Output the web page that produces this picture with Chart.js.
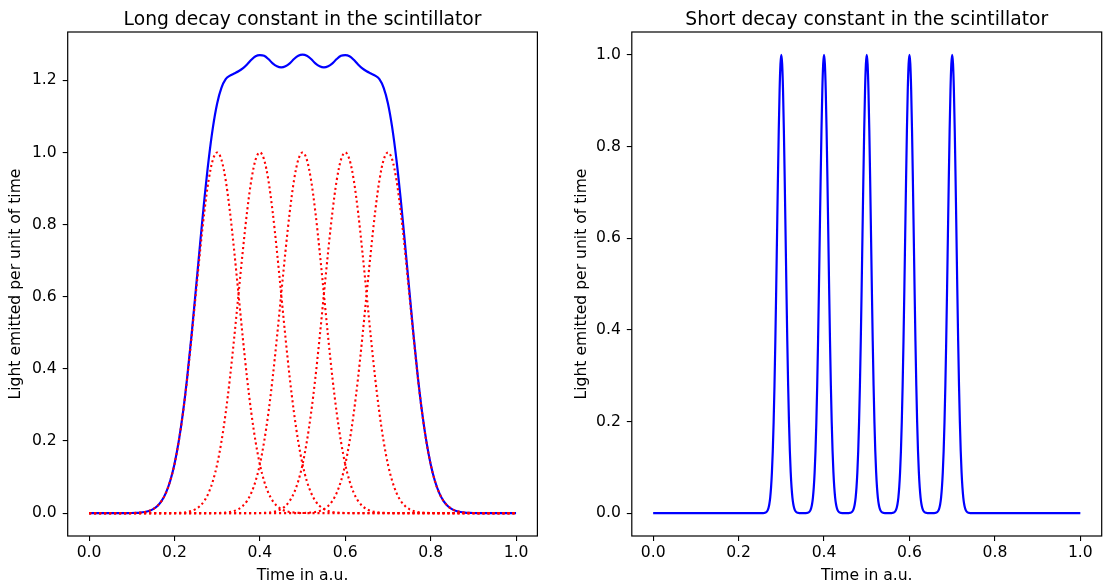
<!DOCTYPE html>
<html><head><meta charset="utf-8">
<script src="https://cdn.jsdelivr.net/npm/chart.js@4.4.1/dist/chart.umd.min.js"></script>
<style>
html,body{margin:0;padding:0;background:#fff;}
body{width:1103px;height:585px;overflow:hidden;position:relative;}
.box{position:absolute;top:0;height:585px;}
</style></head><body>
<div class="box" style="left:0;width:560px"><canvas id="c1"></canvas></div>
<div class="box" style="left:560px;width:543px"><canvas id="c2"></canvas></div>
<script>
// ---- data ----
const titles = ["Long decay constant in the scintillator", "Short decay constant in the scintillator"];
const xLabel = "Time in a.u.";
const yLabel = "Light emitted per unit of time";
const pulseCenters = [0.3, 0.4, 0.5, 0.6, 0.7];
const xTicks = [0, 0.2, 0.4, 0.6, 0.8, 1.0];
const xTickLabels = ["0.0", "0.2", "0.4", "0.6", "0.8", "1.0"];
const yTicksLong = [0, 0.2, 0.4, 0.6, 0.8, 1.0, 1.2];
const yTickLabelsLong = ["0.0", "0.2", "0.4", "0.6", "0.8", "1.0", "1.2"];
const yTicksShort = [0, 0.2, 0.4, 0.6, 0.8, 1.0];
const yTickLabelsShort = ["0.0", "0.2", "0.4", "0.6", "0.8", "1.0"];

// long-decay total light (blue), sampled every 0.01 from 0.00 to 1.00
const longStep = 0.01;
const longTotal = [
  0, 0, 0, 0, 0, 0, 0, 0, 0, 0.0001,
  0.0003, 0.0007, 0.0015, 0.0031, 0.006, 0.0111, 0.0198, 0.034, 0.0562, 0.089,
  0.1356, 0.1987, 0.2795, 0.378, 0.493, 0.618, 0.746, 0.869, 0.979, 1.069,
  1.136, 1.179, 1.203, 1.213, 1.219, 1.225, 1.233, 1.244, 1.257, 1.267,
  1.270, 1.268, 1.259, 1.247, 1.239, 1.236, 1.239, 1.247, 1.259, 1.268,
  1.271, 1.268, 1.259, 1.247, 1.239, 1.236, 1.239, 1.247, 1.259, 1.268,
  1.270, 1.267, 1.257, 1.244, 1.233, 1.225, 1.219, 1.213, 1.203, 1.179,
  1.136, 1.069, 0.979, 0.869, 0.746, 0.618, 0.493, 0.378, 0.2795, 0.1987,
  0.1356, 0.089, 0.0562, 0.034, 0.0198, 0.0111, 0.006, 0.0031, 0.0015, 0.0007,
  0.0003, 0.0001, 0, 0, 0, 0, 0, 0, 0, 0, 0
];
// single long pulse (red dotted), by distance from its centre, every 0.01
const longPulse = [1, 0.980, 0.923, 0.835, 0.726, 0.607, 0.487, 0.375, 0.278, 0.198,
  0.135, 0.0889, 0.0561, 0.034, 0.0198, 0.0111, 0.006, 0.0031, 0.0015, 0.0007, 0.0003];
// single short pulse (blue, right), by distance from its centre, every 0.002
const shortStep = 0.002;
const shortPulse = [1, 0.980, 0.923, 0.835, 0.726, 0.607, 0.487, 0.375, 0.278, 0.198,
  0.135, 0.0889, 0.0561, 0.034, 0.0198, 0.0111, 0.006, 0.0031, 0.0015, 0.0007, 0.0003];

// ---- build datasets from the arrays ----
const longPts = longTotal.map((v, i) => ({x: +(i * longStep).toFixed(4), y: v}));
function pulseSeries(c) {
  return longTotal.map((_, i) => {
    const t = i * longStep;
    const k = Math.round(Math.abs(t - c) / longStep);
    return {x: +t.toFixed(4), y: k < longPulse.length ? longPulse[k] : 0};
  });
}
const nShort = Math.round(1 / shortStep);
const shortPts = [];
for (let i = 0; i <= nShort; i++) {
  const t = i * shortStep;
  let y = 0;
  pulseCenters.forEach(c => {
    const k = Math.round(Math.abs(t - c) / shortStep);
    if (k < shortPulse.length) y = shortPulse[k];
  });
  shortPts.push({x: +t.toFixed(4), y});
}

Chart.defaults.font.family = "'DejaVu Sans', sans-serif";
Chart.defaults.color = '#000';

const FS = 15.6;      // tick / label font size
const TFS = 18.7;     // title font size

const framePlugin = {
  id: 'frame',
  afterDraw(chart, args, opts) {
    const a = chart.chartArea, ctx = chart.ctx;
    ctx.save();
    ctx.strokeStyle = '#000';
    ctx.lineWidth = 1.2;
    ctx.strokeRect(a.left, a.top, a.right - a.left, a.bottom - a.top);
    ctx.fillStyle = '#000';
    ctx.font = TFS + "px 'DejaVu Sans'";
    ctx.textAlign = 'center';
    ctx.textBaseline = 'alphabetic';
    ctx.fillText(opts.text, (a.left + a.right) / 2, 25);
    ctx.restore();
  }
};

function makeOptions(title, yMin, yMax, yTicks, yLabels, yAxisWidth, padRight, yTitlePad) {
  const tickFont = {size: FS};
  return {
    responsive: true,
    maintainAspectRatio: false,
    animation: false,
    events: [],
    layout: {padding: {top: 32, right: padRight, left: 0, bottom: 0}},
    plugins: {legend: {display: false}, tooltip: {enabled: false}, frame: {text: title}},
    elements: {point: {radius: 0}},
    scales: {
      x: {
        type: 'linear', min: -0.05, max: 1.05,
        afterBuildTicks: s => { s.ticks = xTicks.map(v => ({value: v})); },
        afterFit: s => { s.height = 49; },
        ticks: {font: tickFont, color: '#000', padding: 3, maxRotation: 0, autoSkip: false,
                callback: (v, i) => xTickLabels[i]},
        grid: {drawOnChartArea: false, drawTicks: true, tickLength: 5, color: '#000', lineWidth: 1.1},
        border: {display: false},
        title: {display: true, text: xLabel, font: {size: FS}, color: '#000', padding: {top: 0, bottom: 0}}
      },
      y: {
        type: 'linear', min: yMin, max: yMax,
        afterBuildTicks: s => { s.ticks = yTicks.map(v => ({value: v})); },
        afterFit: s => { s.width = yAxisWidth; },
        ticks: {font: tickFont, color: '#000', padding: 6, autoSkip: false,
                callback: (v, i) => yLabels[i]},
        grid: {drawOnChartArea: false, drawTicks: true, tickLength: 5, color: '#000', lineWidth: 1.1},
        border: {display: false},
        title: {display: true, text: yLabel, font: {size: FS}, color: '#000', padding: {top: yTitlePad, bottom: 0}}
      }
    }
  };
}

const redDatasets = pulseCenters.map(c => ({
  data: pulseSeries(c), borderColor: '#ff0000', borderWidth: 2.1, borderDash: [2.1, 2.9],
  cubicInterpolationMode: 'monotone', fill: false, pointRadius: 0
}));

new Chart(document.getElementById('c1'), {
  type: 'line',
  data: {datasets: [...redDatasets, {
    data: longPts, borderColor: '#0000ff', borderWidth: 2.2,
    cubicInterpolationMode: 'monotone', fill: false, pointRadius: 0
  }]},
  options: makeOptions(titles[0], -0.0635, 1.334, yTicksLong, yTickLabelsLong, 67.7, 22.6, 7),
  plugins: [framePlugin]
});

new Chart(document.getElementById('c2'), {
  type: 'line',
  data: {datasets: [{
    data: shortPts, borderColor: '#0000ff', borderWidth: 2.2, fill: false, pointRadius: 0,
    cubicInterpolationMode: 'monotone'
  }]},
  options: makeOptions(titles[1], -0.05, 1.05, yTicksShort, yTickLabelsShort, 71.8, 1.3, 13),
  plugins: [framePlugin]
});
</script>
</body></html>
